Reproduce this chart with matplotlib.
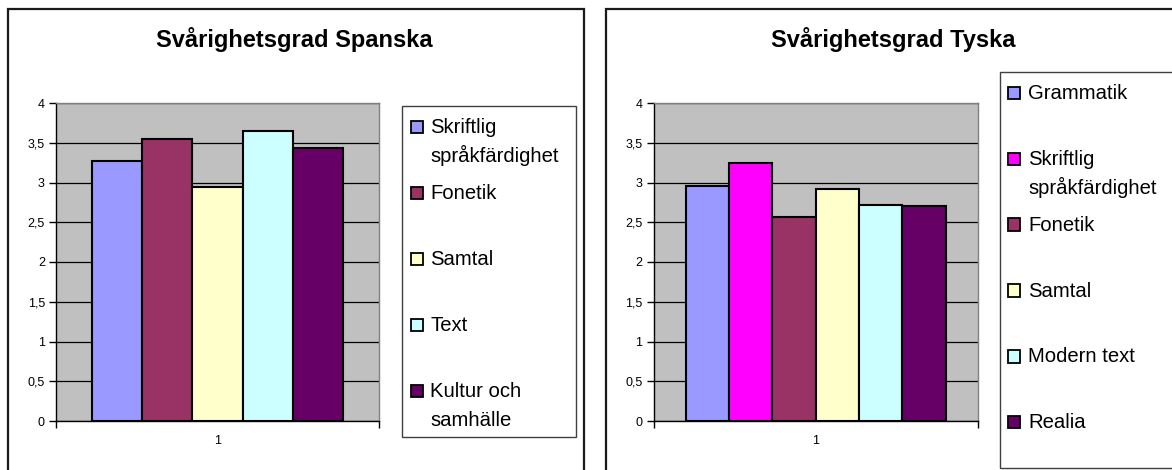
import matplotlib
matplotlib.use("Agg")
import matplotlib.pyplot as plt
from matplotlib.patches import Rectangle

plt.rcParams['font.family'] = ['Liberation Sans', 'DejaVu Sans']

# ---------------- data ----------------
title_es = "Svårighetsgrad Spanska"
cats_es = ["Skriftlig\nspråkfärdighet", "Fonetik", "Samtal", "Text", "Kultur och\nsamhälle"]
vals_es = [3.27, 3.55, 2.94, 3.65, 3.43]
cols_es = ["#9999FF", "#993366", "#FFFFCC", "#CCFFFF", "#660066"]

title_de = "Svårighetsgrad Tyska"
cats_de = ["Grammatik", "Skriftlig\nspråkfärdighet", "Fonetik", "Samtal", "Modern text", "Realia"]
vals_de = [2.95, 3.25, 2.57, 2.92, 2.72, 2.70]
cols_de = ["#9999FF", "#FF00FF", "#993366", "#FFFFCC", "#CCFFFF", "#660066"]

yticks = [0, 0.5, 1, 1.5, 2, 2.5, 3, 3.5, 4]
yticklabels = ["0", "0,5", "1", "1,5", "2", "2,5", "3", "3,5", "4"]
xlabel_cat = "1"

W, H = 1172, 470
fig = plt.figure(figsize=(W / 100, H / 100), dpi=100)


def fx(px):
    return px / W


def fy(py):
    return 1 - py / H


def panel(x0, x1, ax_x0, ax_x1, title, title_cx, cats, vals, cols, group_w,
          leg_box, leg_marker_x, leg_text_x, leg_base0, leg_step):
    # outer panel frame
    fig.add_artist(Rectangle((fx(x0), fy(H + 30)), fx(x1 - x0), (H + 30 - 8.5) / H,
                             transform=fig.transFigure, fill=False,
                             edgecolor="#1a1a1a", lw=1.6, clip_on=False))
    # title
    fig.text(fx(title_cx), fy(47.5), title, ha="center", va="baseline",
             fontsize=17, fontweight="bold")
    # axes
    ax = fig.add_axes([fx(ax_x0), fy(421), fx(ax_x1 - ax_x0), (421 - 103) / H])
    ax.set_facecolor("#C0C0C0")
    n = len(vals)
    w = group_w / n
    xs = [1 + (i - (n - 1) / 2) * w for i in range(n)]
    ax.bar(xs, vals, width=w, color=cols, edgecolor="black", linewidth=1.5, zorder=3)
    ax.set_xlim(0.5, 1.5)
    ax.set_ylim(0, 4)
    ax.set_yticks(yticks)
    ax.set_yticklabels(yticklabels)
    ax.yaxis.grid(True, color="black", lw=0.9, zorder=1)
    ax.set_axisbelow(True)
    ax.set_xticks([0.5, 1.5])
    ax.set_xticklabels(["", ""])
    ax.set_xticks([1], minor=True)
    ax.set_xticklabels([xlabel_cat], minor=True)
    ax.tick_params(axis="x", which="minor", length=0, pad=10, labelsize=9)
    ax.tick_params(axis="x", which="major", length=5, width=1, direction="out")
    ax.tick_params(axis="y", length=5, width=1, direction="out", pad=3, labelsize=9)
    for s in ("left", "bottom"):
        ax.spines[s].set_color("black")
        ax.spines[s].set_linewidth(1.0)
    for s in ("top", "right"):
        ax.spines[s].set_color("#808080")
        ax.spines[s].set_linewidth(1.0)

    # legend (manual, Excel-style): marker aligned with the first text line
    lx0, ly0, lx1, ly1 = leg_box
    fig.add_artist(Rectangle((fx(lx0), fy(ly1)), fx(lx1 - lx0), (ly1 - ly0) / H,
                             transform=fig.transFigure, facecolor="white",
                             edgecolor="#404040", lw=1.0, clip_on=False))
    for i, (c, col) in enumerate(zip(cats, cols)):
        base = leg_base0 + i * leg_step
        fig.add_artist(Rectangle((fx(leg_marker_x), fy(base)), fx(12.5), 12.5 / H,
                                 transform=fig.transFigure, facecolor=col,
                                 edgecolor="black", lw=1.3, clip_on=False))
        for j, line in enumerate(c.split("\n")):
            fig.text(fx(leg_text_x), fy(base + j * 28.5), line, ha="left",
                     va="baseline", fontsize=14.6)
    return ax


panel(8, 583.5, 56, 379, title_es, 294.5, cats_es, vals_es, cols_es, 0.774,
      (401.7, 106, 575.7, 436.7), 410.5, 430.5, 133.3, 66.0)
panel(606, 1180, 653.5, 978, title_de, 893, cats_de, vals_de, cols_de, 0.801,
      (1000, 72, 1190, 468), 1007.5, 1028.3, 99.3, 65.8)

fig.savefig("out.png", dpi=100)
